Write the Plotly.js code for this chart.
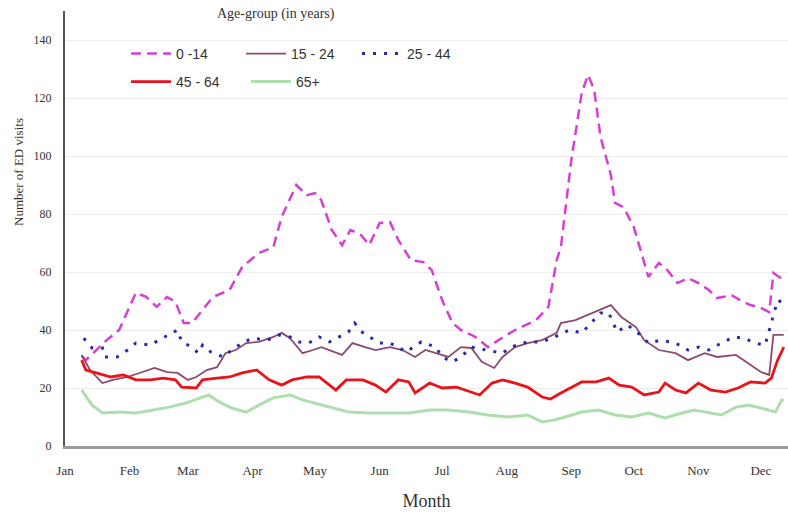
<!DOCTYPE html>
<html>
<head>
<meta charset="utf-8">
<script src="https://cdn.plot.ly/plotly-3.0.1.min.js"></script>
<style>html,body{margin:0;padding:0;background:#fff;}#chart{width:788px;height:517px;}</style>
</head>
<body>
<div id="chart"></div>
<script>
// Month tick positions (day of year) and labels
const monthDays = [0, 31, 59, 90, 120, 151, 181, 212, 243, 273, 304, 334];
const monthLabels = ["Jan", "Feb", "Mar", "Apr", "May", "Jun", "Jul", "Aug", "Sep", "Oct", "Nov", "Dec"];

const seriesNames = ["0 -14", "15 - 24", "25 - 44", "45 - 64", "65+"];

// 0-14
const daysA = [8, 10, 20, 26, 34, 39, 44, 49, 53, 57, 61, 65, 71, 79, 85, 93, 100, 104, 111, 116, 120, 123, 128, 133, 137, 142, 146, 151, 156, 160, 166, 172, 176, 181, 186, 190, 197, 203, 208, 216, 226, 232, 236, 238, 243, 248, 251, 254, 257, 262, 264, 268, 273, 280, 285, 289, 294, 299, 304, 309, 313, 320, 324, 329, 334, 338, 340, 345];
const valsA = [31, 29.6, 36.5, 40, 52.8, 51.4, 48, 51.4, 49.7, 42.4, 42.4, 45.9, 51.4, 53.8, 61.7, 66.5, 68.6, 79, 90, 86.5, 87.2, 84.8, 74.5, 69.3, 74.5, 72.8, 69.3, 76.9, 77.2, 71, 64.1, 63.4, 60.7, 50.3, 42.4, 40, 37.6, 34.1, 36.5, 40, 43.4, 48, 64.1, 68.6, 98.6, 121.7, 128, 122.8, 106.6, 93.4, 83.8, 82.4, 75.5, 58.3, 63.1, 60.7, 56.2, 57.9, 56.2, 53.8, 51, 52, 50.3, 48.6, 47.6, 46.2, 59.7, 57.2];

// 15-24
const daysB = [8, 12, 18, 23, 30, 36, 43, 49, 54, 59, 63, 68, 73, 77, 82, 87, 93, 100, 104, 108, 114, 119, 123, 133, 138, 144, 149, 156, 162, 168, 173, 178, 184, 190, 195, 200, 206, 210, 216, 222, 229, 236, 238, 245, 253, 262, 267, 274, 278, 285, 293, 299, 307, 313, 322, 328, 334, 338, 340, 345];
const valsB = [31.4, 26.2, 21.7, 22.8, 23.8, 25.2, 26.9, 25.5, 25.2, 22.8, 23.8, 26.2, 27.2, 32, 33.1, 35.5, 35.9, 37.6, 39, 37.2, 32, 33.1, 34.1, 31.4, 35.5, 34.1, 33.1, 34.1, 33.1, 30.7, 33.1, 32, 30.7, 34.1, 33.8, 29, 26.9, 30.7, 34.1, 35.5, 36.5, 39, 42.4, 43.4, 45.9, 48.6, 44.5, 41, 36.5, 33.1, 32, 29.6, 32, 30.7, 31.4, 28.6, 25.5, 24.5, 38.3, 38.3];

// 25-44
const daysC = [9, 13, 18, 19, 25, 30, 34, 41, 45, 50, 54, 56, 61, 64, 66, 70, 76, 80, 85, 90, 97, 103, 108, 112, 117, 122, 127, 136, 139, 143, 151, 156, 164, 167, 171, 178, 181, 186, 190, 195, 203, 210, 214, 222, 229, 235, 242, 248, 257, 261, 265, 270, 275, 280, 286, 293, 299, 304, 309, 315, 321, 326, 331, 336, 339, 342, 345];
const valsC = [37.2, 33.8, 33.8, 30.7, 30.7, 33.1, 35.5, 34.8, 36.5, 38.3, 40, 35.9, 34.1, 32, 34.8, 32.4, 30.7, 33.1, 35.5, 37.2, 36.5, 38.3, 37.6, 35.9, 35.5, 37.6, 35.9, 39.3, 42.4, 39, 35.5, 35.5, 32.4, 34.1, 35.9, 34.1, 30.7, 29, 30.7, 34.1, 33.1, 32, 34.1, 35.9, 35.9, 37.6, 40, 39, 45.9, 45.9, 39.3, 41.7, 39, 35.5, 36.5, 35.5, 33.1, 34.1, 33.1, 35.5, 37.6, 37.2, 35.5, 34.8, 42.4, 50.3, 49.3];

// 45-64
const daysD = [8, 10, 15, 22, 28, 34, 41, 47, 53, 56, 63, 66, 73, 79, 85, 92, 98, 104, 109, 116, 122, 130, 135, 143, 149, 154, 160, 165, 168, 175, 181, 188, 192, 199, 205, 210, 216, 222, 229, 233, 238, 248, 255, 261, 266, 272, 278, 285, 288, 293, 298, 304, 310, 317, 323, 329, 336, 339, 342, 345];
const valsD = [29.6, 26.2, 25.2, 23.8, 24.5, 22.8, 22.8, 23.4, 22.8, 20.3, 20, 22.8, 23.4, 23.8, 25.2, 26.2, 22.8, 21, 22.8, 23.8, 23.8, 19.3, 22.8, 22.8, 21, 18.6, 22.8, 22.1, 18.3, 21.7, 20, 20.3, 19.3, 17.6, 21.7, 22.8, 21.7, 20.3, 16.9, 16.2, 18.3, 22.1, 22.1, 23.4, 21, 20.3, 17.6, 18.6, 21.7, 19.3, 18.3, 21.7, 19.3, 18.6, 20, 22.1, 21.7, 23.4, 29.6, 34.1];

// 65+
const daysE = [8, 13, 18, 26, 34, 42, 50, 58, 65, 69, 74, 80, 87, 93, 100, 108, 114, 120, 127, 136, 146, 156, 165, 175, 184, 194, 203, 213, 222, 229, 235, 240, 248, 256, 264, 272, 280, 288, 296, 302, 309, 315, 322, 328, 334, 341, 344, 345];
const valsE = [19.3, 14.1, 11.4, 11.7, 11.4, 12.4, 13.4, 14.8, 16.6, 17.6, 15.2, 13.1, 11.7, 14.1, 16.6, 17.6, 15.9, 14.8, 13.4, 11.7, 11.4, 11.4, 11.4, 12.4, 12.4, 11.7, 10.7, 10, 10.7, 8.3, 9, 10, 11.7, 12.4, 10.7, 10, 11.4, 9.7, 11.4, 12.4, 11.4, 10.7, 13.4, 14.1, 13.1, 11.7, 15.9, 15.9];

const traces = [
  {x: daysA, y: valsA, name: seriesNames[0], legend: "legend", line: {color: "#d63fd6", width: 2.5, dash: "10px,6px"}},
  {x: daysB, y: valsB, name: seriesNames[1], legend: "legend2", line: {color: "#8c4a6e", width: 1.8}},
  {x: daysC, y: valsC, name: seriesNames[2], legend: "legend3", line: {color: "#2a2aa8", width: 3, dash: "3px,8px"}},
  {x: daysD, y: valsD, name: seriesNames[3], legend: "legend4", line: {color: "#e8141a", width: 2.8}},
  {x: daysE, y: valsE, name: seriesNames[4], legend: "legend5", line: {color: "#addfad", width: 3}}
].map(t => Object.assign({type: "scatter", mode: "lines", hoverinfo: "skip"}, t));

const PL = 65, PW = 723, PB = 446, PH = 435;
const px = v => (v - PL) / PW;
const py = v => (PB - v) / PH;
const legFont = {family: "Liberation Sans, Arial, sans-serif", size: 14, color: "#333"};
function leg(xp, yp) {
  return {x: px(xp), y: py(yp), xanchor: "left", yanchor: "middle", orientation: "h",
          bgcolor: "rgba(0,0,0,0)", borderwidth: 0, font: legFont, itemwidth: 40};
}

const layout = {
  width: 788, height: 517,
  margin: {l: PL, r: 0, t: 11, b: 71},
  paper_bgcolor: "#fff", plot_bgcolor: "#fff",
  showlegend: true,
  legend: leg(126, 54),
  legend2: leg(241, 54),
  legend3: leg(357, 54),
  legend4: leg(126, 82),
  legend5: leg(246, 82),
  xaxis: {
    range: [0, 347], tickmode: "array", tickvals: monthDays, ticktext: monthLabels,
    showgrid: false, zeroline: false, showline: true, linecolor: "#9a9a9a", linewidth: 2.5,
    ticks: "", ticklabelstandoff: 11,
    tickfont: {family: "Liberation Serif, Times New Roman, serif", size: 13, color: "#333"},
    title: {text: "Month", standoff: 18, font: {family: "Liberation Serif, Times New Roman, serif", size: 18, color: "#333"}},
    automargin: false
  },
  yaxis: {
    range: [0, 150], tickvals: [0, 20, 40, 60, 80, 100, 120, 140],
    showgrid: true, gridcolor: "#ededed", gridwidth: 1, zeroline: false,
    showline: true, linecolor: "#555", linewidth: 2,
    ticks: "", ticklabelstandoff: 9,
    tickfont: {family: "Liberation Serif, Times New Roman, serif", size: 12, color: "#333"},
    automargin: false
  },
  annotations: [
    {text: "Number of ED visits", xref: "paper", yref: "paper", x: px(18), y: py(172), xanchor: "center", yanchor: "middle",
     textangle: -90, showarrow: false, font: {family: "Liberation Serif, Times New Roman, serif", size: 13, color: "#333"}},
    {text: "Age-group (in years)", xref: "paper", yref: "paper", x: px(276), y: py(14), xanchor: "center", yanchor: "middle",
     showarrow: false, font: {family: "Liberation Serif, Times New Roman, serif", size: 14, color: "#333"}}
  ]
};

Plotly.newPlot("chart", traces, layout, {displayModeBar: false, staticPlot: true});
</script>
</body>
</html>
